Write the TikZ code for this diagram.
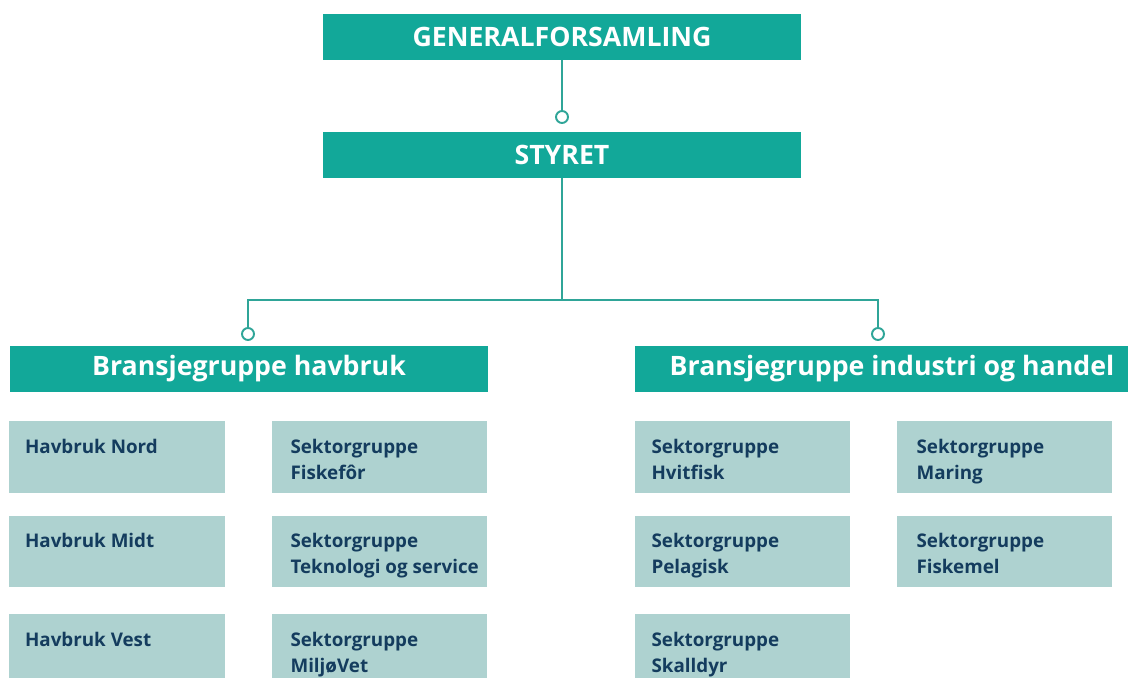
\documentclass[tikz,border=0pt]{standalone}
\usepackage{fontspec}
\setmainfont{Open Sans}
\usetikzlibrary{positioning}
\definecolor{tealbox}{RGB}{18,168,153}
\definecolor{lightbox}{RGB}{174,210,208}
\definecolor{navytext}{RGB}{20,60,94}
\definecolor{tealline}{RGB}{47,165,152}
\tikzset{
  subtext/.style={anchor=north west, inner sep=0pt, align=left, text=navytext,
    font=\bfseries\fontsize{10.7}{14.8}\selectfont}
}
\begin{document}
\begin{tikzpicture}[x=0.02cm, y=-0.02cm]
  \useasboundingbox (0,0) rectangle (1128,678);
  \begin{scope}[every node/.style={fill=tealbox, text=white, inner sep=0pt,
      minimum width=9.56cm, minimum height=0.92cm,
      font=\bfseries\fontsize{15.2}{17}\selectfont}]
    \node (gf)  at (562,37)  {GENERALFORSAMLING};
    \node (sty) at (562,155) {STYRET};
    \node (hav) at (249,369) {Bransjegruppe havbruk};
    \node[minimum width=10.28cm] (ind) at (892,369) {Bransjegruppe industri og handel};
  \end{scope}
  \begin{scope}[every node/.style={draw=tealline, line width=1.1pt, fill=white, circle, inner sep=0pt, minimum size=0.24cm}]
    \node (c1) at (562,117) {};
    \node (c2) at (248,334) {};
    \node (c3) at (878,334) {};
  \end{scope}
  \coordinate (j) at (562,300);
  \begin{scope}[tealline, line width=1.1pt]
    \draw (gf) -- (c1);
    \draw (sty) -- (j) -| (c2);
    \draw (j) -| (c3);
  \end{scope}
  % sub groups
  \begin{scope}[every node/.style={fill=lightbox, inner sep=0pt, minimum width=4.32cm, minimum height=1.44cm}]
    \node (hn) at (117,457)    {};
    \node (hm) at (117,551.5)  {};
    \node (hv) at (117,650)    {};
    \node (sf) at (379.5,457)   {};
    \node (st) at (379.5,551.5) {};
    \node (sm) at (379.5,650)   {};
    \node (sh) at (742.5,457)   {};
    \node (sp) at (742.5,551.5) {};
    \node (ss) at (742.5,650)   {};
    \node (sa) at (1004.5,457)  {};
    \node (sk) at (1004.5,551.5){};
  \end{scope}
  \node[subtext] (thn) at ([shift={(16,18)}]hn.north west) {Havbruk Nord};
  \node[subtext] (thm) at ([shift={(16,18)}]hm.north west) {Havbruk Midt};
  \node[subtext] (thv) at ([shift={(16,18)}]hv.north west) {Havbruk Vest};
  \node[subtext] (tsf) at ([shift={(19,18)}]sf.north west) {Sektorgruppe\\Fiskefôr};
  \node[subtext] (tst) at ([shift={(19,18)}]st.north west) {Sektorgruppe\\Teknologi og service};
  \node[subtext] (tsm) at ([shift={(19,18)}]sm.north west) {Sektorgruppe\\MiljøVet};
  \node[subtext] (tsh) at ([shift={(17,18)}]sh.north west) {Sektorgruppe\\Hvitfisk};
  \node[subtext] (tsp) at ([shift={(17,18)}]sp.north west) {Sektorgruppe\\Pelagisk};
  \node[subtext] (tss) at ([shift={(17,18)}]ss.north west) {Sektorgruppe\\Skalldyr};
  \node[subtext] (tsa) at ([shift={(20,18)}]sa.north west) {Sektorgruppe\\Maring};
  \node[subtext] (tsk) at ([shift={(20,18)}]sk.north west) {Sektorgruppe\\Fiskemel};
\end{tikzpicture}
\end{document}
